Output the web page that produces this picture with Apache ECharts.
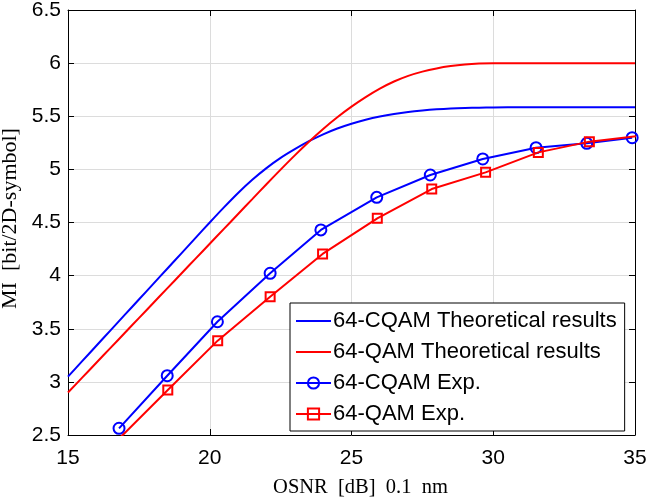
<!DOCTYPE html>
<html>
<head>
<meta charset="utf-8">
<script src="https://cdn.jsdelivr.net/npm/echarts@6/dist/echarts.min.js"></script>
<style>
html,body{margin:0;padding:0;background:#fff;}
#chart{width:648px;height:503px;}
</style>
</head>
<body>
<div id="chart"></div>
<script>
// ---- data ----
const seriesNames = ['64-CQAM Theoretical results', '64-QAM Theoretical results', '64-CQAM Exp.', '64-QAM Exp.'];

const theoryX = [15, 15.5, 16, 16.5, 17, 17.5, 18, 18.5, 19, 19.5, 20, 20.5, 21, 21.5, 22, 22.5, 23, 23.5, 24, 24.5, 25, 25.5, 26, 26.5, 27, 27.5, 28, 28.5, 29, 29.5, 30, 31, 32, 33, 34, 35];
const cqamTheoryY = [3.05, 3.195, 3.34, 3.485, 3.63, 3.775, 3.92, 4.065, 4.21, 4.355, 4.50, 4.642, 4.778, 4.902, 5.012, 5.108, 5.19, 5.265, 5.33, 5.385, 5.43, 5.467, 5.497, 5.521, 5.54, 5.554, 5.565, 5.573, 5.578, 5.581, 5.583, 5.584, 5.584, 5.584, 5.584, 5.584];
const qamTheoryY = [2.90, 3.04, 3.18, 3.32, 3.46, 3.60, 3.74, 3.88, 4.02, 4.16, 4.30, 4.44, 4.58, 4.72, 4.86, 4.998, 5.132, 5.26, 5.38, 5.49, 5.59, 5.68, 5.76, 5.827, 5.88, 5.92, 5.95, 5.972, 5.987, 5.996, 6.0, 6.0, 6.0, 6.0, 6.0, 6.0];

const cqamExpX = [16.80, 18.50, 20.27, 22.13, 23.92, 25.89, 27.78, 29.63, 31.51, 33.30, 34.90];
const cqamExpY = [2.563, 3.058, 3.566, 4.022, 4.430, 4.737, 4.947, 5.098, 5.204, 5.245, 5.298];

const qamExpX = [16.80, 18.52, 20.28, 22.13, 23.98, 25.91, 27.83, 29.73, 31.59, 33.39, 35.20];
const qamExpY = [2.465, 2.924, 3.388, 3.802, 4.204, 4.539, 4.815, 4.972, 5.160, 5.261, 5.318];

const xAxisRange = {min: 15, max: 35, step: 5};
const yAxisRange = {min: 2.5, max: 6.5, step: 0.5};
const xTitle = 'OSNR  [dB]  0.1  nm';
const yTitle = 'MI  [bit/2D-symbol]';

// ---- build ----
const zip = (xs, ys) => xs.map((x, i) => [x, ys[i]]);
const BLUE = '#0000ff', RED = '#ff0000';
const sansFont = '"Liberation Sans", Arial, sans-serif';
const serifFont = '"Liberation Serif", "Times New Roman", serif';

const chart = echarts.init(document.getElementById('chart'), null, {renderer: 'canvas'});

const baseX = {
  type: 'value', min: xAxisRange.min, max: xAxisRange.max, interval: xAxisRange.step,
  axisLine: {show: true, onZero: false, lineStyle: {color: '#000', width: 1}},
  axisTick: {show: true, inside: true, length: 6, lineStyle: {color: '#000', width: 1}},
};
const baseY = {
  type: 'value', min: yAxisRange.min, max: yAxisRange.max, interval: yAxisRange.step,
  axisLine: {show: true, onZero: false, lineStyle: {color: '#000', width: 1}},
  axisTick: {show: true, inside: true, length: 6, lineStyle: {color: '#000', width: 1}},
};

const option = {
  backgroundColor: '#fff',
  animation: false,
  grid: {left: 68, top: 10, right: 13, bottom: 68, containLabel: false, outerBoundsMode: 'none'},
  legend: {
    show: true,
    data: [
      {name: seriesNames[0], itemStyle: {opacity: 0}},
      {name: seriesNames[1], itemStyle: {opacity: 0}},
      {name: seriesNames[2]},
      {name: seriesNames[3]},
    ],
    orient: 'vertical',
    left: 290, top: 303,
    padding: [7, 8, 6, 5],
    itemGap: 9,
    itemWidth: 35,
    itemHeight: 14,
    backgroundColor: '#fff',
    borderColor: '#000',
    borderWidth: 1,
    borderRadius: 0,
    textStyle: {fontFamily: sansFont, fontSize: 22, color: '#000', lineHeight: 20, padding: [0, 0, 0, -3]},
  },
  xAxis: [
    Object.assign({}, baseX, {
      position: 'bottom',
      name: xTitle, nameLocation: 'middle', nameGap: 42,
      nameTextStyle: {fontFamily: serifFont, fontSize: 20.5, color: '#000', padding: [0, 0, 0, 18]},
      axisLabel: {show: true, margin: 13, fontFamily: sansFont, fontSize: 21, color: '#000'},
      splitLine: {show: true, lineStyle: {color: '#dcdcdc', width: 1}},
    }),
    Object.assign({}, baseX, {
      position: 'top',
      axisLabel: {show: false},
      splitLine: {show: false},
    }),
  ],
  yAxis: [
    Object.assign({}, baseY, {
      position: 'left',
      name: yTitle, nameLocation: 'middle', nameGap: 42, nameRotate: 90,
      nameTextStyle: {fontFamily: serifFont, fontSize: 22, color: '#000', padding: [0, 0, 0, 8]},
      axisLabel: {show: true, margin: 7, fontFamily: sansFont, fontSize: 21, color: '#000'},
      splitLine: {show: true, lineStyle: {color: '#dcdcdc', width: 1}},
    }),
    Object.assign({}, baseY, {
      position: 'right',
      axisLabel: {show: false},
      splitLine: {show: false},
    }),
  ],
  series: [
    {
      name: seriesNames[0], type: 'line', xAxisIndex: 0, yAxisIndex: 0,
      data: zip(theoryX, cqamTheoryY),
      showSymbol: false, symbol: 'none', smooth: 0.3,
      lineStyle: {color: BLUE, width: 2}, itemStyle: {color: BLUE}, clip: true, z: 3,
    },
    {
      name: seriesNames[1], type: 'line', xAxisIndex: 0, yAxisIndex: 0,
      data: zip(theoryX, qamTheoryY),
      showSymbol: false, symbol: 'none', smooth: 0.3,
      lineStyle: {color: RED, width: 2}, itemStyle: {color: RED}, clip: true, z: 4,
    },
    {
      name: seriesNames[2], type: 'line', xAxisIndex: 0, yAxisIndex: 0,
      data: zip(cqamExpX, cqamExpY),
      symbol: 'circle', symbolSize: 11, showSymbol: true,
      lineStyle: {color: BLUE, width: 2},
      itemStyle: {color: 'rgba(255,255,255,0)', borderColor: BLUE, borderWidth: 2},
      clip: true, z: 5,
    },
    {
      name: seriesNames[3], type: 'line', xAxisIndex: 0, yAxisIndex: 0,
      data: zip(qamExpX, qamExpY),
      symbol: 'rect', symbolSize: 9, showSymbol: true,
      lineStyle: {color: RED, width: 2},
      itemStyle: {color: 'rgba(255,255,255,0)', borderColor: RED, borderWidth: 2},
      clip: true, z: 6,
    },
  ],
};
chart.setOption(option);
</script>
</body>
</html>
